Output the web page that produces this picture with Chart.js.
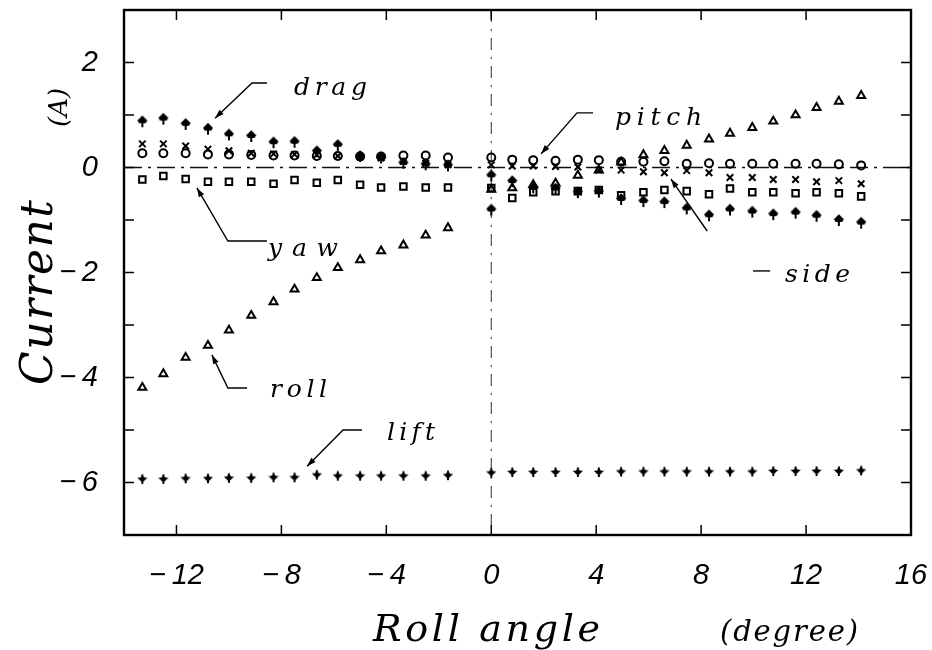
<!DOCTYPE html>
<html>
<head>
<meta charset="utf-8">
<script src="https://cdn.jsdelivr.net/npm/chart.js@4/dist/chart.umd.min.js"></script>
<style>
  html, body { margin: 0; padding: 0; background: #fff; }
  #wrap { width: 932px; height: 650px; }
</style>
</head>
<body>
<div id="wrap"><canvas id="c" width="932" height="650"></canvas></div>
<script>
// Roll angles (degree) of the two measurement runs
const leftAngles  = [-13.3, -12.5, -11.65, -10.8, -10.0, -9.15, -8.3, -7.5, -6.65, -5.85, -5.0, -4.2, -3.35, -2.5, -1.65];
const rightAngles = [0, 0.8, 1.6, 2.45, 3.3, 4.1, 4.95, 5.8, 6.6, 7.45, 8.3, 9.1, 9.95, 10.75, 11.6, 12.4, 13.25, 14.1];
const dragRightAngles = [0, 0, 0.8, 1.6, 2.45, 3.3, 4.1, 4.95, 5.8, 6.6, 7.45, 8.3, 9.1, 9.95, 10.75, 11.6, 12.4, 13.25, 14.1];

// Coil currents (A)
const dragLeft   = [0.90, 0.95, 0.85, 0.76, 0.65, 0.62, 0.50, 0.51, 0.33, 0.45, 0.24, 0.21, 0.11, 0.08, 0.06];
const dragRight  = [-0.13, -0.78, -0.24, -0.36, -0.38, -0.45, -0.44, -0.58, -0.62, -0.64, -0.76, -0.89, -0.78, -0.82, -0.87, -0.84, -0.90, -0.98, -1.03];
const sideLeft   = [0.45, 0.45, 0.41, 0.35, 0.32, 0.27, 0.26, 0.25, 0.24, 0.22, 0.20, 0.18, 0.12, 0.08, 0.05];
const sideRight  = [0.05, 0.03, 0.03, 0.02, 0.01, -0.05, -0.05, -0.08, -0.10, -0.06, -0.10, -0.19, -0.19, -0.23, -0.23, -0.27, -0.25, -0.31];
const pitchLeft  = [0.27, 0.27, 0.27, 0.25, 0.25, 0.24, 0.23, 0.23, 0.22, 0.22, 0.21, 0.21, 0.23, 0.23, 0.19];
const pitchRight = [0.19, 0.15, 0.14, 0.13, 0.15, 0.14, 0.11, 0.11, 0.12, 0.07, 0.08, 0.07, 0.07, 0.07, 0.07, 0.07, 0.06, 0.04];
const yawLeft    = [-0.23, -0.16, -0.22, -0.27, -0.27, -0.27, -0.31, -0.24, -0.29, -0.24, -0.33, -0.38, -0.36, -0.38, -0.38];
const yawRight   = [-0.39, -0.58, -0.47, -0.45, -0.45, -0.43, -0.53, -0.47, -0.43, -0.45, -0.51, -0.40, -0.47, -0.47, -0.49, -0.47, -0.49, -0.55];
const rollLeft   = [-4.19, -3.93, -3.62, -3.39, -3.10, -2.82, -2.56, -2.32, -2.10, -1.91, -1.76, -1.59, -1.48, -1.29, -1.15];
const rollRight  = [-0.42, -0.39, -0.33, -0.30, -0.15, -0.05, 0.10, 0.24, 0.32, 0.42, 0.54, 0.65, 0.76, 0.88, 1.00, 1.14, 1.26, 1.37];
const liftLeft   = [-5.93, -5.93, -5.92, -5.92, -5.91, -5.91, -5.90, -5.90, -5.85, -5.87, -5.87, -5.87, -5.87, -5.87, -5.86];
const liftRight  = [-5.81, -5.80, -5.80, -5.80, -5.80, -5.80, -5.79, -5.79, -5.79, -5.79, -5.79, -5.79, -5.79, -5.78, -5.78, -5.78, -5.78, -5.77];

// Axis ticks
const xTickValues = [-12, -8, -4, 0, 4, 8, 12, 16];
const yTickValues = [-7, -6, -5, -4, -3, -2, -1, 0, 1, 2, 3];
const yLabelledTicks = [-6, -4, -2, 0, 2];

// Callout labels: text anchor in data units, leader polylines in data units
const callouts = [
  { text: 'drag',  at: [-7.52, 1.39],  width: 73, leaders: [[[-8.55, 1.61], [-9.12, 1.61], [-10.53, 0.94]]] },
  { text: 'yaw',   at: [-8.51, -1.69], width: 70, leaders: [[[-8.55, -1.40], [-10.04, -1.40], [-11.22, -0.39]]] },
  { text: 'pitch', at: [4.72, 0.81],   width: 87, leaders: [[[3.88, 1.04], [3.27, 1.04], [1.90, 0.26]]] },
  { text: 'side',  at: [11.20, -2.18], width: 65, leaders: [[[9.98, -1.97], [10.63, -1.97]], [[8.23, -1.21], [6.85, -0.22]]] },
  { text: 'roll',  at: [-8.43, -4.37], width: 57, leaders: [[[-9.31, -4.20], [-10.04, -4.20], [-10.65, -3.57]]] },
  { text: 'lift',  at: [-3.97, -5.19], width: 48, leaders: [[[-4.93, -5.00], [-5.65, -5.00], [-7.02, -5.69]]] }
];

// Tick text: minus sign followed by a thin space
const fmt = v => (v < 0 ? '\u2212\u2009' + Math.abs(v) : String(v));
const pairs = (angles, values) => angles.map((a, i) => ({ x: a, y: values[i] }));

// Filled marker: spade-like arrow head on a short stem (drag)
function dragMarker() {
  const c = document.createElement('canvas');
  c.width = 12; c.height = 18;
  const g = c.getContext('2d');
  g.fillStyle = '#000';
  g.beginPath();
  g.moveTo(6, 4.2); g.lineTo(11, 9.2); g.lineTo(9.2, 12); g.lineTo(2.8, 12); g.lineTo(1, 9.2);
  g.closePath(); g.fill();
  g.fillRect(5, 11, 2, 5);
  return c;
}
// Filled marker: downward arrow head crossed by a bar (lift)
function liftMarker() {
  const c = document.createElement('canvas');
  c.width = 12; c.height = 12;
  const g = c.getContext('2d');
  g.fillStyle = '#000';
  g.fillRect(5, 1.5, 2, 9.5);
  g.beginPath();
  g.moveTo(0.8, 4.8); g.lineTo(11.2, 4.8); g.lineTo(6, 9.8); g.closePath(); g.fill();
  g.beginPath();
  g.moveTo(3.5, 5); g.lineTo(6, 2.2); g.lineTo(8.5, 5); g.closePath(); g.fill();
  return c;
}

const openStyle = {
  showLine: false,
  borderColor: '#000',
  backgroundColor: 'rgba(0,0,0,0)',
  pointBorderColor: '#000',
  pointBackgroundColor: 'rgba(0,0,0,0)',
  pointBorderWidth: 2
};

const datasets = [
  Object.assign({ label: 'roll', data: pairs(leftAngles, rollLeft).concat(pairs(rightAngles, rollRight)), pointStyle: 'triangle', pointRadius: 4.6 }, openStyle),
  Object.assign({ label: 'yaw', data: pairs(leftAngles, yawLeft).concat(pairs(rightAngles, yawRight)), pointStyle: 'rect', pointRadius: 4.6 }, openStyle),
  Object.assign({ label: 'pitch', data: pairs(leftAngles, pitchLeft).concat(pairs(rightAngles, pitchRight)), pointStyle: 'circle', pointRadius: 4 }, openStyle),
  Object.assign({ label: 'side', data: pairs(leftAngles, sideLeft).concat(pairs(rightAngles, sideRight)), pointStyle: 'crossRot', pointRadius: 4.6 }, openStyle),
  Object.assign({ label: 'drag', data: pairs(leftAngles, dragLeft).concat(pairs(dragRightAngles, dragRight)), pointStyle: dragMarker(), pointRadius: 5 }, openStyle),
  Object.assign({ label: 'lift', data: pairs(leftAngles, liftLeft).concat(pairs(rightAngles, liftRight)), pointStyle: liftMarker(), pointRadius: 5 }, openStyle)
];

const LABEL_FONT = '"DejaVu Serif", "Liberation Serif", serif';

// Draw text left-aligned so that it spans the given width
function spreadText(ctx, text, x, y, width, font) {
  ctx.font = font;
  if ('letterSpacing' in ctx) ctx.letterSpacing = '0px';
  const w0 = ctx.measureText(text).width;
  if ('letterSpacing' in ctx && text.length > 1) {
    ctx.letterSpacing = Math.max(0, (width - w0) / (text.length - 1)) + 'px';
  }
  ctx.textAlign = 'left';
  ctx.textBaseline = 'alphabetic';
  ctx.fillText(text, x, y);
  if ('letterSpacing' in ctx) ctx.letterSpacing = '0px';
}

function arrowHead(ctx, from, to) {
  const ang = Math.atan2(to[1] - from[1], to[0] - from[0]);
  const len = 9, half = 3;
  ctx.beginPath();
  ctx.moveTo(to[0], to[1]);
  ctx.lineTo(to[0] - len * Math.cos(ang) + half * Math.sin(ang), to[1] - len * Math.sin(ang) - half * Math.cos(ang));
  ctx.lineTo(to[0] - len * Math.cos(ang) - half * Math.sin(ang), to[1] - len * Math.sin(ang) + half * Math.cos(ang));
  ctx.closePath();
  ctx.fill();
}

const decor = {
  id: 'decor',
  beforeDatasetsDraw(chart) {
    const { ctx, chartArea: a, scales: { x, y } } = chart;
    ctx.save();
    ctx.strokeStyle = '#111';
    // dash-dot line at zero current
    ctx.lineWidth = 1.6;
    ctx.setLineDash([18, 6, 3, 6]);
    const y0 = y.getPixelForValue(0);
    ctx.beginPath(); ctx.moveTo(a.left, y0); ctx.lineTo(a.right, y0); ctx.stroke();
    // dash-dot line at zero roll angle
    ctx.lineWidth = 1.1;
    ctx.strokeStyle = '#444';
    ctx.setLineDash([12, 7, 2, 7]);
    const x0 = x.getPixelForValue(0);
    ctx.beginPath(); ctx.moveTo(x0, a.top); ctx.lineTo(x0, a.bottom); ctx.stroke();
    ctx.restore();
  },
  afterDatasetsDraw(chart) {
    const { ctx, chartArea: a, scales: { x, y } } = chart;
    const P = p => [x.getPixelForValue(p[0]), y.getPixelForValue(p[1])];
    ctx.save();
    ctx.strokeStyle = '#000';
    ctx.fillStyle = '#000';

    // frame
    ctx.lineWidth = 2.4;
    ctx.strokeRect(a.left, a.top, a.right - a.left, a.bottom - a.top);

    // inward tick marks on all four sides
    ctx.lineWidth = 1.5;
    const tl = 10;
    ctx.beginPath();
    xTickValues.forEach(v => {
      const px = x.getPixelForValue(v);
      ctx.moveTo(px, a.bottom); ctx.lineTo(px, a.bottom - tl);
      ctx.moveTo(px, a.top); ctx.lineTo(px, a.top + tl);
    });
    yTickValues.forEach(v => {
      const py = y.getPixelForValue(v);
      ctx.moveTo(a.left, py); ctx.lineTo(a.left + tl, py);
      ctx.moveTo(a.right, py); ctx.lineTo(a.right - tl, py);
    });
    ctx.stroke();

    // callouts
    ctx.lineWidth = 1.4;
    callouts.forEach(c => {
      c.leaders.forEach((line, li) => {
        const pts = line.map(P);
        ctx.beginPath();
        pts.forEach((p, i) => (i ? ctx.lineTo(p[0], p[1]) : ctx.moveTo(p[0], p[1])));
        ctx.stroke();
        if (li === c.leaders.length - 1 && pts.length > 1) {
          arrowHead(ctx, pts[pts.length - 2], pts[pts.length - 1]);
        }
      });
      const t = P(c.at);
      spreadText(ctx, c.text, t[0], t[1], c.width, 'italic 25px ' + LABEL_FONT);
    });

    // axis titles
    spreadText(ctx, 'Roll angle', 373, 641, 227, 'italic 38px ' + LABEL_FONT);
    spreadText(ctx, '(degree)', 720, 641, 138, 'italic 29px ' + LABEL_FONT);

    ctx.save();
    ctx.translate(52, 385);
    ctx.rotate(-Math.PI / 2);
    spreadText(ctx, 'Current', 0, 0, 185, 'italic 44px ' + LABEL_FONT);
    ctx.restore();

    ctx.save();
    ctx.translate(67, 127);
    ctx.rotate(-Math.PI / 2);
    spreadText(ctx, '(A)', 0, 0, 36, 'italic 26px ' + LABEL_FONT);
    ctx.restore();

    ctx.restore();
  }
};

const tickFont = { family: '"Liberation Sans", Arial, sans-serif', size: 29, style: 'italic' };

// The frame is fixed; tick labels may overhang it without shrinking the plot
const noOverhang = s => { s.paddingTop = 0; s.paddingBottom = 0; s.paddingLeft = 0; s.paddingRight = 0; };

new Chart(document.getElementById('c'), {
  type: 'scatter',
  data: { datasets },
  options: {
    responsive: false,
    animation: false,
    events: [],
    layout: { padding: { top: 10, right: 21, left: 0, bottom: 0 } },
    plugins: { legend: { display: false }, tooltip: { enabled: false } },
    scales: {
      x: {
        type: 'linear',
        min: -14,
        max: 16,
        afterBuildTicks: s => { s.ticks = xTickValues.map(v => ({ value: v })); },
        afterFit: s => { s.height = 115; noOverhang(s); },
        grid: { display: false, drawTicks: false },
        border: { display: false },
        ticks: { autoSkip: false, maxRotation: 0, padding: 24, color: '#000', font: tickFont, callback: v => fmt(v) }
      },
      y: {
        type: 'linear',
        min: -7,
        max: 3,
        afterBuildTicks: s => { s.ticks = yTickValues.map(v => ({ value: v })); },
        afterFit: s => { s.width = 124; noOverhang(s); },
        grid: { display: false, drawTicks: false },
        border: { display: false },
        ticks: { autoSkip: false, padding: 26, color: '#000', font: tickFont, callback: v => (yLabelledTicks.includes(v) ? fmt(v) : '') }
      }
    }
  },
  plugins: [decor]
});
</script>
</body>
</html>
